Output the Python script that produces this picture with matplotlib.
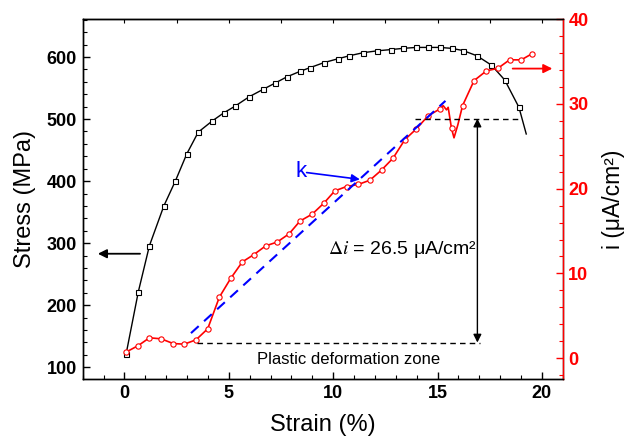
import matplotlib
matplotlib.use('Agg')
import matplotlib.pyplot as plt
from matplotlib.ticker import MultipleLocator

plt.rcParams['font.family'] = ['Liberation Sans', 'DejaVu Sans']
plt.rcParams['mathtext.fontset'] = 'stix'

# stress-strain curve (left axis)
strain_s = [0.08, 0.67, 1.20, 1.89, 2.44, 2.99, 3.54, 4.21, 4.76, 5.31, 5.98,
            6.65, 7.22, 7.78, 8.42, 8.90, 9.56, 10.21, 10.77, 11.44, 12.11,
            12.76, 13.35, 13.99, 14.55, 15.11, 15.67, 16.22, 16.89, 17.58,
            18.22, 18.90, 19.25]
stress = [121, 222, 296, 360, 400, 444, 479, 497, 510, 521, 536,
          548, 558, 568, 577, 583, 591, 597, 602, 607, 610,
          612, 614, 615.5, 615.5, 615.5, 614, 610.5, 602, 587,
          563, 519, 476]
stress_marks = list(range(len(strain_s) - 1))

# current density curve (right axis)
strain_i = [0.08, 0.67, 1.20, 1.76, 2.34, 2.87, 3.43, 3.99, 4.55, 5.09,
            5.65, 6.19, 6.77, 7.32, 7.89, 8.41, 9.00, 9.56, 10.08, 10.64,
            11.21, 11.76, 12.32, 12.87, 13.44, 13.99, 14.55, 15.11, 15.27,
            15.43, 15.51, 15.67, 15.79, 15.97, 16.20, 16.75, 17.34, 17.89,
            18.45, 19.01, 19.54]
current = [0.71, 1.49, 2.40, 2.28, 1.72, 1.65, 2.16, 3.46, 7.2, 9.4,
           11.36, 12.2, 13.25, 13.7, 14.67, 16.17, 17.0, 18.3, 19.74, 20.25,
           20.5, 21.0, 22.2, 23.6, 25.8, 27.06, 28.6, 29.4, 29.8,
           29.3, 29.6, 27.1, 26.0, 27.5, 29.8, 32.75, 33.9, 34.2,
           35.2, 35.2, 35.94]
current_marks = [i for i in range(len(strain_i)) if i not in (28, 29, 30, 32, 33)]

# slope line k, plastic-zone levels
k_x = [3.19, 15.38]
k_y = [2.95, 30.36]
i_low, i_high = 1.84, 28.27
low_x = [3.46, 17.02]
high_x = [13.9, 19.0]
arrow_x = 16.91

fig = plt.figure(figsize=(6.26, 4.36), dpi=100)
ax = fig.add_axes([0.132, 0.130, 0.767, 0.826])
ax2 = ax.twinx()

ax.plot(strain_s, stress, color='black', lw=1.0, marker='s', ms=3.6,
        mfc='white', mec='black', mew=0.8, markevery=stress_marks)
ax2.plot(strain_i, current, color='red', lw=1.2, marker='o', ms=3.8,
         mfc='white', mec='red', mew=0.8, markevery=current_marks)
ax2.plot(k_x, k_y, color='blue', lw=1.5, dashes=(5, 3.5))
ax2.plot(low_x, [i_low, i_low], color='black', lw=1.0, dashes=(4, 3))
ax2.plot(high_x, [i_high, i_high], color='black', lw=1.0, dashes=(4, 3))

ax2.annotate('', xy=(arrow_x, i_high), xytext=(arrow_x, i_low),
             arrowprops=dict(arrowstyle='<|-|>', color='black', lw=1.0,
                             mutation_scale=12, shrinkA=0, shrinkB=0))
ax2.text(9.75, 12.8, r'$\Delta i$ = 26.5 μA/cm²', fontsize=14,
         ha='left', va='center')
ax2.text(6.33, -0.2, 'Plastic deformation zone', fontsize=12,
         ha='left', va='center')

ax2.text(8.45, 22.0, 'k', color='blue', fontsize=16, ha='center', va='center')
ax2.annotate('', xy=(11.28, 21.1), xytext=(8.73, 21.9),
             arrowprops=dict(arrowstyle='-|>', color='blue', lw=1.2,
                             mutation_scale=12, shrinkA=0, shrinkB=0))

ax.annotate('', xy=(-1.27, 283), xytext=(0.75, 283),
            arrowprops=dict(arrowstyle='-|>', color='black', lw=1.3,
                            mutation_scale=13, shrinkA=0, shrinkB=0))
ax2.annotate('', xy=(20.5, 34.17), xytext=(18.6, 34.17),
             arrowprops=dict(arrowstyle='-|>', color='red', lw=1.3,
                             mutation_scale=13, shrinkA=0, shrinkB=0))

ax.set_xlim(-2, 21)
ax.set_ylim(80.6, 661)
ax2.set_ylim(-2.5, 40)

ax.xaxis.set_major_locator(MultipleLocator(5))
ax.xaxis.set_minor_locator(MultipleLocator(1))
ax.yaxis.set_major_locator(MultipleLocator(100))
ax.yaxis.set_minor_locator(MultipleLocator(20))
ax2.yaxis.set_major_locator(MultipleLocator(10))
ax2.yaxis.set_minor_locator(MultipleLocator(2))

ax.tick_params(which='both', direction='in', top=False, right=False, labelsize=13, pad=4)
ax.tick_params(which='major', length=5, width=1)
ax.tick_params(which='minor', length=3, width=0.8)
ax2.tick_params(which='both', direction='in', colors='red', labelsize=13, pad=4)
ax2.tick_params(which='major', length=5, width=1)
ax2.tick_params(which='minor', length=3, width=0.8)
for lab in ax.get_xticklabels() + ax.get_yticklabels() + ax2.get_yticklabels():
    lab.set_fontweight('bold')

top = ax.secondary_xaxis('top')
top.xaxis.set_major_locator(MultipleLocator(2.5))
top.tick_params(direction='in', length=3, width=0.8, labeltop=False)

ax2.spines['right'].set_color('red')
for sp in ax2.spines.values():
    sp.set_linewidth(1.0)
for sp in ax.spines.values():
    sp.set_linewidth(1.0)

ax.set_xlabel('Strain (%)', fontsize=17, labelpad=9)
ax.set_ylabel('Stress (MPa)', fontsize=17, labelpad=8)
ax2.set_ylabel('i (μA/cm²)', fontsize=16.5, labelpad=10)

fig.savefig('out.png', dpi=100)
